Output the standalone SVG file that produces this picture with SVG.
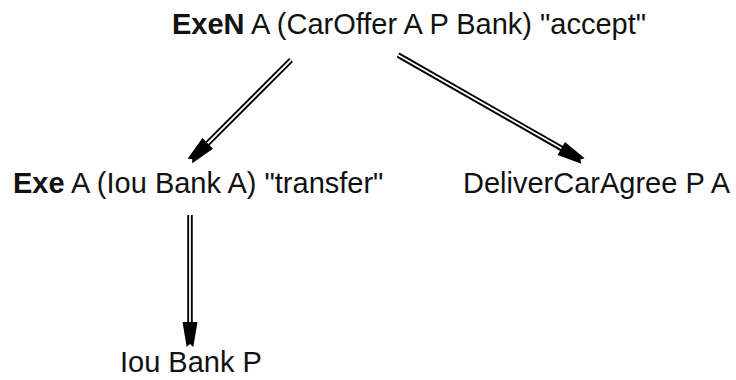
<svg xmlns="http://www.w3.org/2000/svg" width="736" height="380" viewBox="0 0 736 380">
<style>
text{font-family:"Liberation Sans",Arial,sans-serif;font-size:29px;fill:#111}
.b{font-weight:bold}
.o{fill:none;stroke:#000;stroke-width:5.5}
.i{fill:none;stroke:#fff;stroke-width:1.8}
.h{fill:#000}
</style>
<defs>
<path id="ah" d="M0,-3.3 L-3,0 L0,3.3 L-25,7.5 L-25,-7.5 Z"/>
</defs>
<g id="n1"><text x="172" y="34"><tspan class="b">ExeN</tspan> A (CarOffer A P Bank) "accept"</text></g>
<g id="n2"><text x="13" y="193"><tspan class="b">Exe</tspan> A (Iou Bank A) "transfer"</text></g>
<g id="n3"><text x="463" y="193">DeliverCarAgree P A</text></g>
<g id="n4"><text x="120" y="372">Iou Bank P</text></g>
<g id="edges">
<path class="o" d="M291,60 L205,146"/>
<path class="i" d="M291,60 L203,148"/>
<use href="#ah" class="h" transform="translate(190,161) rotate(135)"/>
<path class="o" d="M398,55 L566,151"/>
<path class="i" d="M398,55 L568,152"/>
<use href="#ah" class="h" transform="translate(583,161) rotate(29.8)"/>
<path class="o" d="M190,215 L190,328"/>
<path class="i" d="M190,215 L190,330"/>
<use href="#ah" class="h" transform="translate(190,347) rotate(90)"/>
</g>
</svg>
